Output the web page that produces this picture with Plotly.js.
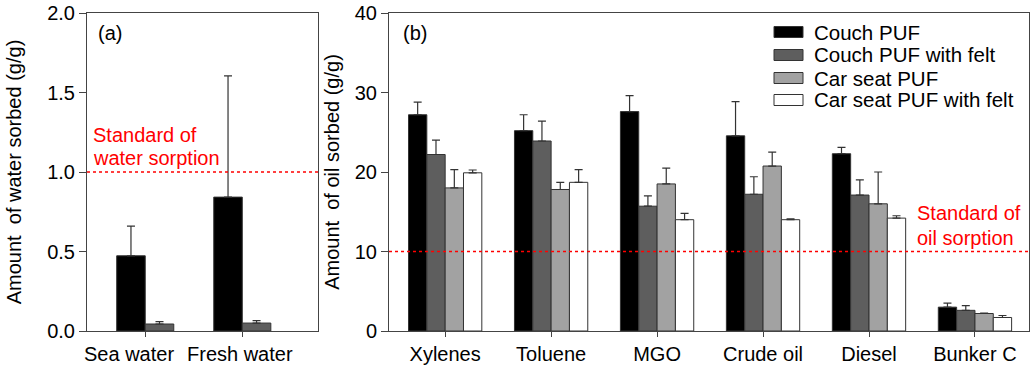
<!DOCTYPE html>
<html>
<head>
<meta charset="utf-8">
<script src="https://cdn.plot.ly/plotly-3.0.1.min.js"></script>
<style>html,body{margin:0;padding:0;background:#fff;}#chart{width:1032px;height:373px;}</style>
</head>
<body>
<div id="chart"></div>
<script>
// Panel (a): water sorption
const waterCategories = ["Sea water", "Fresh water"];
const waterCouch = [0.473, 0.842];
const waterCouchErr = [0.187, 0.762];
const waterCouchFelt = [0.044, 0.050];
const waterCouchFeltErr = [0.015, 0.015];
const waterStandard = 1.0;

// Panel (b): oil sorption
const oilCategories = ["Xylenes", "Toluene", "MGO", "Crude oil", "Diesel", "Bunker C"];
const seriesNames = ["Couch PUF", "Couch PUF with felt", "Car seat PUF", "Car seat PUF with felt"];
const couchPUF = [27.2, 25.2, 27.6, 24.55, 22.3, 3.0];
const couchPUFErr = [1.6, 2.0, 2.0, 4.3, 0.8, 0.5];
const couchFelt = [22.2, 23.9, 15.7, 17.2, 17.1, 2.6];
const couchFeltErr = [1.8, 2.5, 1.3, 2.2, 1.9, 0.6];
const carSeat = [18.0, 17.8, 18.5, 20.75, 16.0, 2.2];
const carSeatErr = [2.3, 0.9, 2.0, 1.75, 4.0, 0.05];
const carSeatFelt = [19.9, 18.7, 14.0, 14.0, 14.2, 1.7];
const carSeatFeltErr = [0.35, 1.6, 0.8, 0.1, 0.3, 0.25];
const oilStandard = 10;

const FONT = "Liberation Sans, Arial, sans-serif";
const fills = ["#000000", "#5e5e5e", "#a2a2a2", "#ffffff"];
const lineCol = "#333333";
const W = 1032, H = 373;
const px = v => v / W;
const py = v => 1 - v / H;

function errY(arr) {
  return {type: "data", array: arr, arrayminus: arr.map(() => 0), symmetric: false,
          color: "#333333", thickness: 1.2, width: 4};
}

const bwA = 0.294;
const bwB = 0.173;
const traces = [];
// panel a
[[waterCouch, waterCouchErr], [waterCouchFelt, waterCouchFeltErr]].forEach((s, i) => {
  traces.push({type: "bar", x: waterCategories, y: s[0], xaxis: "x", yaxis: "y",
    width: bwA, offset: -bwA + i * bwA, showlegend: false, name: seriesNames[i],
    marker: {color: fills[i], line: {color: lineCol, width: 1}},
    error_y: errY(s[1])});
});
// panel b
[[couchPUF, couchPUFErr], [couchFelt, couchFeltErr], [carSeat, carSeatErr], [carSeatFelt, carSeatFeltErr]].forEach((s, i) => {
  traces.push({type: "bar", x: oilCategories, y: s[0], xaxis: "x2", yaxis: "y2",
    width: bwB, offset: -2 * bwB + i * bwB, name: seriesNames[i], showlegend: false,
    marker: {color: fills[i], line: {color: lineCol, width: 1}},
    error_y: errY(s[1])});
});

const axisCommon = {showgrid: false, zeroline: false, showline: true, linecolor: "#444", linewidth: 1,
  mirror: true, ticks: "outside", tickcolor: "#444", tickangle: 0,
  tickfont: {family: FONT, size: 20, color: "#000"}};

const yDom = [42 / H, 1 - 13 / H];

const shapes = [
  {type: "line", xref: "x domain", yref: "y", x0: 0, x1: 1, y0: waterStandard, y1: waterStandard,
   line: {color: "#ff0000", width: 1.3, dash: "dot"}},
  {type: "line", xref: "x2 domain", yref: "y2", x0: 0, x1: 1, y0: oilStandard, y1: oilStandard,
   line: {color: "#ff0000", width: 1.3, dash: "dot"}}
];
const annotations = [
  {xref: "paper", yref: "paper", x: px(96), y: py(33), xanchor: "left", yanchor: "middle",
   text: "(a)", showarrow: false, font: {family: FONT, size: 20, color: "#000"}},
  {xref: "paper", yref: "paper", x: px(401), y: py(33), xanchor: "left", yanchor: "middle",
   text: "(b)", showarrow: false, font: {family: FONT, size: 20, color: "#000"}},
  {xref: "paper", yref: "paper", x: px(91), y: py(135), xanchor: "left", yanchor: "middle",
   text: "Standard of", showarrow: false, font: {family: FONT, size: 20, color: "#ff0000"}},
  {xref: "paper", yref: "paper", x: px(91), y: py(158), xanchor: "left", yanchor: "middle",
   text: "water sorption", showarrow: false, font: {family: FONT, size: 20, color: "#ff0000"}},
  {xref: "paper", yref: "paper", x: px(915), y: py(213), xanchor: "left", yanchor: "middle",
   text: "Standard of", showarrow: false, font: {family: FONT, size: 20, color: "#ff0000"}},
  {xref: "paper", yref: "paper", x: px(915), y: py(238), xanchor: "left", yanchor: "middle",
   text: "oil sorption", showarrow: false, font: {family: FONT, size: 20, color: "#ff0000"}}
];
// category labels of panel (a), placed as in the reference (left one shifted left)
const waterLabelCenters = [129, 240];
waterCategories.forEach((c, i) => {
  annotations.push({xref: "paper", yref: "paper", x: px(waterLabelCenters[i]), y: py(354),
    xanchor: "center", yanchor: "middle", text: c, showarrow: false,
    font: {family: FONT, size: 20, color: "#000"}});
});
// legend (drawn as swatches + text)
const legendRows = [32, 55, 78, 100];
seriesNames.forEach((name, i) => {
  const yc = legendRows[i];
  shapes.push({type: "rect", xref: "paper", yref: "paper", x0: px(774), x1: px(803),
    y0: py(yc + 5.5), y1: py(yc - 5.5), fillcolor: fills[i], line: {color: lineCol, width: 1}});
  annotations.push({xref: "paper", yref: "paper", x: px(812), y: py(yc), xanchor: "left", yanchor: "middle",
    text: name, showarrow: false, font: {family: FONT, size: 20.5, color: "#000"}});
});

const layout = {
  width: W, height: H, margin: {l: 0, r: 0, t: 0, b: 0},
  paper_bgcolor: "#fff", plot_bgcolor: "#fff",
  barmode: "overlay", showlegend: false,
  font: {family: FONT, size: 20, color: "#000"},
  xaxis: Object.assign({}, axisCommon, {domain: [px(87), px(318)], type: "category",
    range: [-0.6, 1.78], ticklen: 5, anchor: "y", showticklabels: false}),
  yaxis: Object.assign({}, axisCommon, {domain: yDom, range: [0, 2], dtick: 0.5, tickformat: ".1f",
    ticklen: 7, anchor: "x",
    title: {text: "Amount  of water sorbed (g/g)", font: {family: FONT, size: 20}, standoff: 20}}),
  xaxis2: Object.assign({}, axisCommon, {domain: [px(389), px(1029)], type: "category",
    range: [-0.53, 5.51], ticklen: 5, anchor: "y2"}),
  yaxis2: Object.assign({}, axisCommon, {domain: yDom, range: [0, 40], dtick: 10,
    ticklen: 7, anchor: "x2",
    title: {text: "Amount  of oil sorbed (g/g)", font: {family: FONT, size: 20}, standoff: 9}}),
  shapes: shapes,
  annotations: annotations
};

Plotly.newPlot("chart", traces, layout, {displayModeBar: false, staticPlot: true});
</script>
</body>
</html>
